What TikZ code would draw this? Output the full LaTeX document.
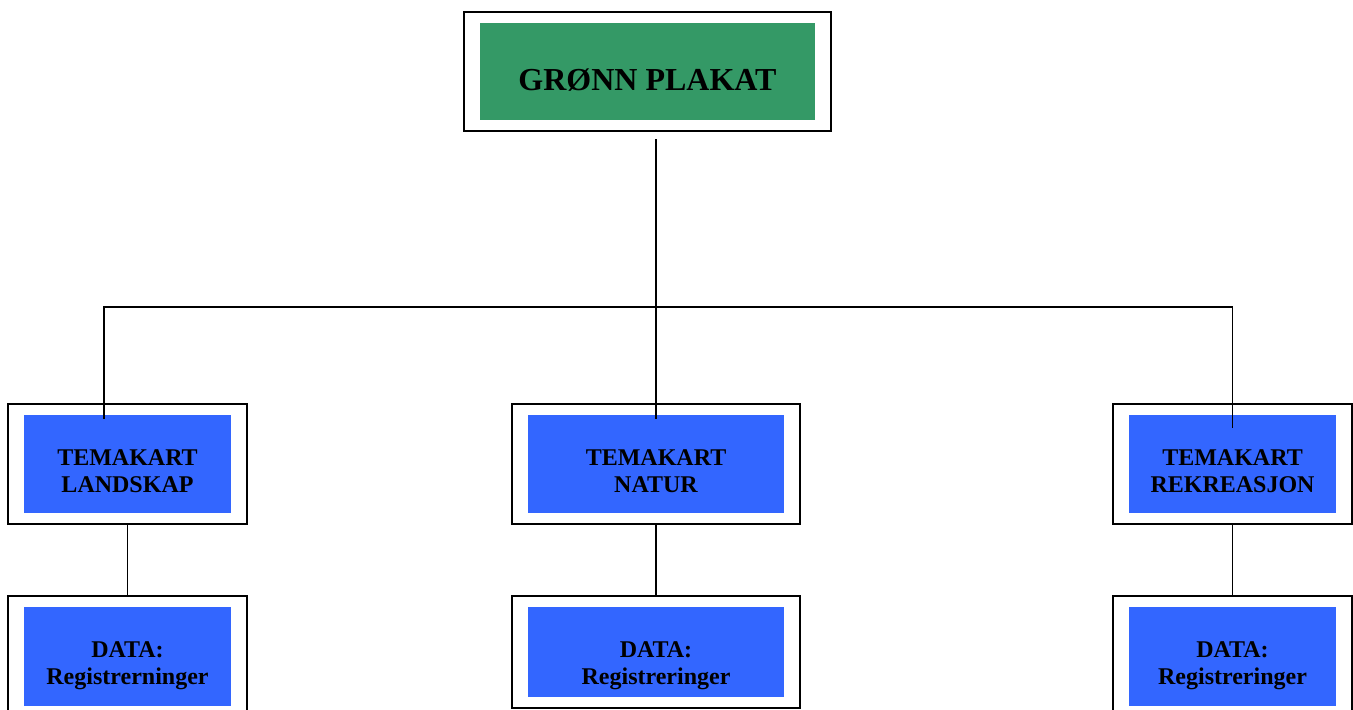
\documentclass[tikz,border=0pt]{standalone}
\usepackage{fontspec}
\setmainfont{Liberation Serif}
\usetikzlibrary{fit}
\definecolor{plakatgronn}{RGB}{52,153,102}
\definecolor{temablaa}{RGB}{51,102,255}

\tikzset{
  ramme/.style={draw=black, line width=1pt, inner xsep=8pt, inner ysep=5.5pt},
  felt/.style={fill=temablaa, inner sep=0pt, align=center,
    font=\bfseries\fontsize{12}{13.5}\selectfont, minimum height=49pt,
    text height=28pt, text depth=0pt},
  linje/.style={draw=black, line width=0.9pt}
}

\begin{document}
\begin{tikzpicture}[x=0.5pt, y=-0.5pt]
  \useasboundingbox (0,0) rectangle (1353,709);
  \clip (0,0) rectangle (1353,709);
  \begin{scope}[every node/.style={felt}]
    \node (plakat) [fill=plakatgronn, minimum width=167.5pt, minimum height=48.5pt,
      text height=18.5pt, font=\bfseries\fontsize{16}{19}\selectfont] at (647.5,71.5) {GRØNN PLAKAT};
    \node (landskap) [minimum width=103.5pt] at (127.5,464) {TEMAKART\\LANDSKAP};
    \node (natur) [minimum width=128pt] at (656,464) {TEMAKART\\NATUR};
    \node (rekreasjon) [minimum width=103.5pt] at (1232.5,464) {TEMAKART\\REKREASJON};
    \node (landskapdata) [minimum width=103.5pt, minimum height=49.5pt, text height=27.5pt] at (127.5,656.5) {DATA:\\Registrerninger};
    \node (naturdata) [minimum width=128pt, minimum height=45pt, text height=32pt] at (656,652) {DATA:\\Registreringer};
    \node (rekreasjondata) [minimum width=103.5pt, minimum height=49.5pt, text height=27.5pt] at (1232.5,656.5) {DATA:\\Registreringer};
  \end{scope}
  % rammer rundt feltene
  \foreach \n in {plakat,landskap,natur,rekreasjon,landskapdata,naturdata,rekreasjondata}
    \node (ramme-\n) [ramme, fit=(\n)] {};
  % forbindelser
  \coordinate (stamme) at (656,139);
  \coordinate (knute) at (656,307);
  \draw[linje] (stamme) -- (knute);
  \draw[linje] ([xshift=-11.75pt,yshift=-2pt]landskap.north) |- (knute)
    -| ([yshift=-6.5pt]rekreasjon.north);
  \draw[linje] (knute) -- ([yshift=-2pt]natur.north);
  \foreach \n in {landskap,natur,rekreasjon}
    \draw[linje] (ramme-\n.south) -- (ramme-\n data.north);
\end{tikzpicture}
\end{document}
